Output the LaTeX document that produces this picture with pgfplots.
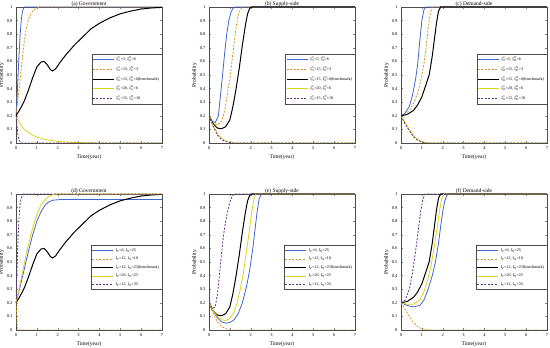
\documentclass[border=0pt]{standalone}
\usepackage{pgfplots}
\pgfplotsset{compat=1.18}
\usepackage{fontspec}
\setmainfont{Liberation Serif}
\definecolor{cblue}{rgb}{0.25,0.40,0.80}
\definecolor{corange}{rgb}{0.86,0.58,0.12}
\definecolor{cyellow}{rgb}{0.88,0.82,0.10}
\definecolor{cpurple}{rgb}{0.40,0.18,0.55}
\newcommand{\xs}[2]{ξ\rlap{\textsuperscript{#2}}\textsubscript{#1}}
\newcommand{\xg}[3]{\xs{#1}{C}=#2, \xs{#1}{N}=#3}
\newcommand{\ip}[2]{I\textsubscript{P}=#1, I\textsubscript{N}=#2}
\pgfplotsset{
  panel/.style={
    scale only axis, width=146pt, height=136pt,
    xmin=0, xmax=7, ymin=0, ymax=1,
    xtick={0,1,...,7}, ytick={0,0.1,...,1},
    yticklabels={0,0.1,0.2,0.3,0.4,0.5,0.6,0.7,0.8,0.9,1},
    tick align=inside, tick pos=both, major tick length=2pt,
    tick label style={font=\fontsize{4.5}{5}\selectfont},
    /pgf/number format/assume math mode=true,
    xlabel={Time(year)}, ylabel={Probability},
    label style={font=\fontsize{5.5}{6}\selectfont},
    xlabel style={yshift=2pt}, ylabel style={yshift=-4pt},
    title style={font=\fontsize{5.5}{6}\selectfont, at={(0.5,1)}, anchor=south, yshift=-6.5pt, inner sep=0.5pt},
    axis line style={line width=0.4pt, black!70},
    legend style={font=\fontsize{4.1}{4.5}\selectfont, draw=black!70, line width=0.3pt,
      inner sep=0.8pt, row sep=0.3pt, legend cell align=left},
    legend image code/.code={\draw[##1] (0pt,0pt) -- (21pt,0pt);},
    every axis plot/.append style={line width=0.8pt},
  },
  bl/.style={cblue, solid},
  ora/.style={corange, dashed, dash pattern=on 2pt off 1.5pt},
  blk/.style={black, solid, line width=1.0pt},
  yel/.style={cyellow, solid},
  pur/.style={cpurple, dashed, dash pattern=on 2pt off 1.5pt},
}
\begin{document}
\begin{tikzpicture}
\path[use as bounding box] (0pt,0pt) rectangle (550pt,348pt);
% (a)
\begin{axis}[panel, at={(16pt,205pt)}, anchor=south west, title={(a) Government},
  legend style={at={(1,0.655)}, anchor=north east}]
\addplot[bl] coordinates {(0,0.2)(0.05,0.33)(0.1,0.5)(0.15,0.66)(0.2,0.8)(0.25,0.9)(0.3,0.96)(0.38,1)(7,1)};
\addplot[ora] coordinates {(0,0.2)(0.1,0.33)(0.2,0.47)(0.3,0.62)(0.4,0.75)(0.5,0.85)(0.6,0.91)(0.75,0.96)(0.9,0.985)(1.15,1)(7,1)};
\addplot[blk] coordinates {(0,0.2)(0.2,0.25)(0.4,0.31)(0.6,0.39)(0.8,0.48)(1.0,0.56)(1.2,0.595)(1.35,0.6)(1.5,0.575)(1.65,0.54)(1.75,0.53)(1.9,0.545)(2.1,0.59)(2.4,0.65)(2.8,0.72)(3.2,0.78)(3.6,0.84)(4,0.88)(4.5,0.92)(5,0.95)(5.5,0.97)(6,0.985)(6.5,0.993)(7,0.997)};
\addplot[yel] coordinates {(0,0.19)(0.2,0.14)(0.4,0.1)(0.6,0.075)(0.8,0.057)(1.0,0.043)(1.3,0.03)(1.6,0.02)(2,0.012)(2.5,0.006)(3,0.003)(4,0)(7,0)};
\addplot[pur] coordinates {(0,0.2)(0.05,0.12)(0.1,0.05)(0.15,0.02)(0.25,0)(7,0)};
\legend{{\xg{G}{5}{6}},{\xg{G}{15}{3}},{\xg{G}{15}{6}(benchmark)},{\xg{G}{20}{6}},{\xg{G}{15}{18}}}
\end{axis}
% (b)
\begin{axis}[panel, at={(209pt,205pt)}, anchor=south west, title={(b) Supply-side},
  legend style={at={(1,0.655)}, anchor=north east}]
\addplot[bl] coordinates {(0,0.2)(0.15,0.16)(0.3,0.15)(0.45,0.2)(0.55,0.35)(0.65,0.5)(0.75,0.66)(0.85,0.8)(0.95,0.9)(1.05,0.96)(1.15,0.99)(1.25,1)(7,1)};
\addplot[ora] coordinates {(0,0.2)(0.2,0.15)(0.4,0.13)(0.6,0.16)(0.75,0.23)(0.9,0.38)(1.0,0.47)(1.1,0.6)(1.2,0.73)(1.3,0.85)(1.4,0.94)(1.5,0.98)(1.6,1)(7,1)};
\addplot[blk] coordinates {(0,0.2)(0.2,0.14)(0.4,0.11)(0.6,0.105)(0.8,0.12)(1.0,0.17)(1.15,0.27)(1.3,0.4)(1.45,0.55)(1.6,0.72)(1.75,0.87)(1.85,0.95)(1.95,0.99)(2.05,1)(7,1)};
\addplot[yel] coordinates {(0,0.2)(0.2,0.13)(0.4,0.07)(0.6,0.035)(0.8,0.015)(1.0,0.005)(1.2,0)(7,0)};
\addplot[pur] coordinates {(0,0.2)(0.2,0.12)(0.4,0.06)(0.6,0.025)(0.8,0.01)(1.0,0.003)(1.2,0)(7,0)};
\legend{{\xg{S}{5}{6}},{\xg{S}{15}{3}},{\xg{S}{15}{6}(benchmark)},{\xg{S}{20}{6}},{\xg{S}{15}{18}}}
\end{axis}
% (c)
\begin{axis}[panel, at={(401pt,205pt)}, anchor=south west, title={(c) Demand-side},
  legend style={at={(1,0.655)}, anchor=north east}]
\addplot[bl] coordinates {(0,0.2)(0.2,0.22)(0.4,0.27)(0.55,0.35)(0.7,0.47)(0.8,0.58)(0.9,0.75)(1.0,0.9)(1.1,0.98)(1.2,1)(7,1)};
\addplot[ora] coordinates {(0,0.2)(0.2,0.21)(0.4,0.24)(0.6,0.29)(0.8,0.37)(0.95,0.46)(1.1,0.58)(1.2,0.7)(1.3,0.84)(1.4,0.95)(1.5,1)(7,1)};
\addplot[blk] coordinates {(0,0.2)(0.3,0.21)(0.6,0.24)(0.8,0.28)(1.0,0.34)(1.2,0.43)(1.35,0.5)(1.5,0.64)(1.6,0.76)(1.7,0.88)(1.8,0.97)(1.9,1)(7,1)};
\addplot[yel] coordinates {(0,0.2)(0.2,0.15)(0.4,0.1)(0.6,0.055)(0.8,0.025)(1.0,0.01)(1.2,0.003)(1.4,0)(7,0)};
\addplot[pur] coordinates {(0,0.2)(0.2,0.14)(0.4,0.09)(0.6,0.045)(0.8,0.02)(1.0,0.007)(1.2,0)(7,0)};
\legend{{\xg{D}{5}{6}},{\xg{D}{15}{3}},{\xg{D}{15}{6}(benchmark)},{\xg{D}{20}{6}},{\xg{D}{15}{18}}}
\end{axis}
% (d)
\begin{axis}[panel, at={(16pt,18pt)}, anchor=south west, title={(d) Government},
  legend style={at={(1,0.622)}, anchor=north east}]
\addplot[bl] coordinates {(0,0.2)(0.2,0.32)(0.4,0.45)(0.6,0.58)(0.8,0.7)(1.0,0.8)(1.2,0.87)(1.4,0.92)(1.6,0.945)(1.8,0.955)(2.2,0.96)(7,0.96)};
\addplot[ora] coordinates {(0,0.2)(0.03,0.1)(0.06,0.03)(0.1,0)(7,0)};
\addplot[blk] coordinates {(0,0.2)(0.2,0.25)(0.4,0.31)(0.6,0.39)(0.8,0.48)(1.0,0.56)(1.2,0.595)(1.35,0.6)(1.5,0.575)(1.65,0.54)(1.75,0.53)(1.9,0.545)(2.1,0.59)(2.4,0.65)(2.8,0.72)(3.2,0.78)(3.6,0.84)(4,0.88)(4.5,0.92)(5,0.95)(5.5,0.97)(6,0.985)(6.5,0.993)(7,0.997)};
\addplot[yel] coordinates {(0,0.2)(0.2,0.34)(0.4,0.49)(0.6,0.63)(0.8,0.75)(1.0,0.85)(1.2,0.92)(1.4,0.96)(1.6,0.985)(1.8,0.997)(2,1)(7,1)};
\addplot[pur] coordinates {(0,0.2)(0.05,0.45)(0.1,0.68)(0.15,0.84)(0.2,0.93)(0.25,0.97)(0.3,0.99)(0.35,1)(7,1)};
\legend{{\ip{6}{25}},{\ip{12}{10}},{\ip{12}{25}(benchmark)},{\ip{26}{25}},{\ip{12}{35}}}
\end{axis}
% (e)
\begin{axis}[panel, at={(209pt,18pt)}, anchor=south west, title={(e) Supply-side},
  legend style={at={(1,0.622)}, anchor=north east}]
\addplot[bl] coordinates {(0,0.2)(0.2,0.14)(0.4,0.09)(0.6,0.06)(0.8,0.05)(1.0,0.055)(1.2,0.075)(1.4,0.12)(1.6,0.2)(1.8,0.32)(1.95,0.44)(2.1,0.6)(2.2,0.73)(2.3,0.86)(2.4,0.96)(2.5,1)(7,1)};
\addplot[ora] coordinates {(0,0.2)(0.2,0.12)(0.4,0.06)(0.6,0.025)(0.8,0.01)(1.0,0)(7,0)};
\addplot[blk] coordinates {(0,0.2)(0.2,0.14)(0.4,0.11)(0.6,0.105)(0.8,0.12)(1.0,0.17)(1.15,0.27)(1.3,0.4)(1.45,0.55)(1.6,0.72)(1.75,0.87)(1.85,0.95)(1.95,0.99)(2.05,1)(7,1)};
\addplot[yel] coordinates {(0,0.2)(0.2,0.14)(0.4,0.1)(0.6,0.075)(0.8,0.07)(1.0,0.085)(1.2,0.13)(1.35,0.2)(1.5,0.3)(1.65,0.42)(1.8,0.58)(1.95,0.75)(2.05,0.87)(2.15,0.96)(2.25,1)(7,1)};
\addplot[pur] coordinates {(0,0.2)(0.15,0.16)(0.3,0.17)(0.4,0.26)(0.5,0.4)(0.6,0.56)(0.7,0.7)(0.8,0.8)(0.9,0.88)(1.0,0.94)(1.1,0.98)(1.2,1)(7,1)};
\legend{{\ip{6}{25}},{\ip{12}{10}},{\ip{12}{25}(benchmark)},{\ip{26}{25}},{\ip{12}{35}}}
\end{axis}
% (f)
\begin{axis}[panel, at={(401pt,18pt)}, anchor=south west, title={(f) Demand-side},
  legend style={at={(1,0.622)}, anchor=north east}]
\addplot[bl] coordinates {(0,0.2)(0.3,0.18)(0.6,0.17)(0.9,0.18)(1.1,0.22)(1.3,0.3)(1.5,0.4)(1.65,0.5)(1.8,0.64)(1.9,0.76)(2.0,0.87)(2.1,0.95)(2.2,0.99)(2.3,1)(7,1)};
\addplot[ora] coordinates {(0,0.2)(0.2,0.15)(0.4,0.1)(0.6,0.055)(0.8,0.025)(1.0,0.01)(1.2,0.003)(1.4,0)(7,0)};
\addplot[blk] coordinates {(0,0.2)(0.3,0.21)(0.6,0.24)(0.8,0.28)(1.0,0.34)(1.2,0.43)(1.35,0.5)(1.5,0.64)(1.6,0.76)(1.7,0.88)(1.8,0.97)(1.9,1)(7,1)};
\addplot[yel] coordinates {(0,0.2)(0.3,0.19)(0.6,0.19)(0.9,0.22)(1.1,0.28)(1.3,0.38)(1.45,0.48)(1.6,0.62)(1.75,0.77)(1.85,0.88)(1.95,0.96)(2.05,1)(7,1)};
\addplot[pur] coordinates {(0,0.2)(0.2,0.22)(0.4,0.3)(0.55,0.42)(0.7,0.58)(0.85,0.76)(0.95,0.88)(1.05,0.96)(1.15,1)(7,1)};
\legend{{\ip{6}{25}},{\ip{12}{10}},{\ip{12}{25}(benchmark)},{\ip{26}{25}},{\ip{12}{35}}}
\end{axis}
\end{tikzpicture}
\end{document}
